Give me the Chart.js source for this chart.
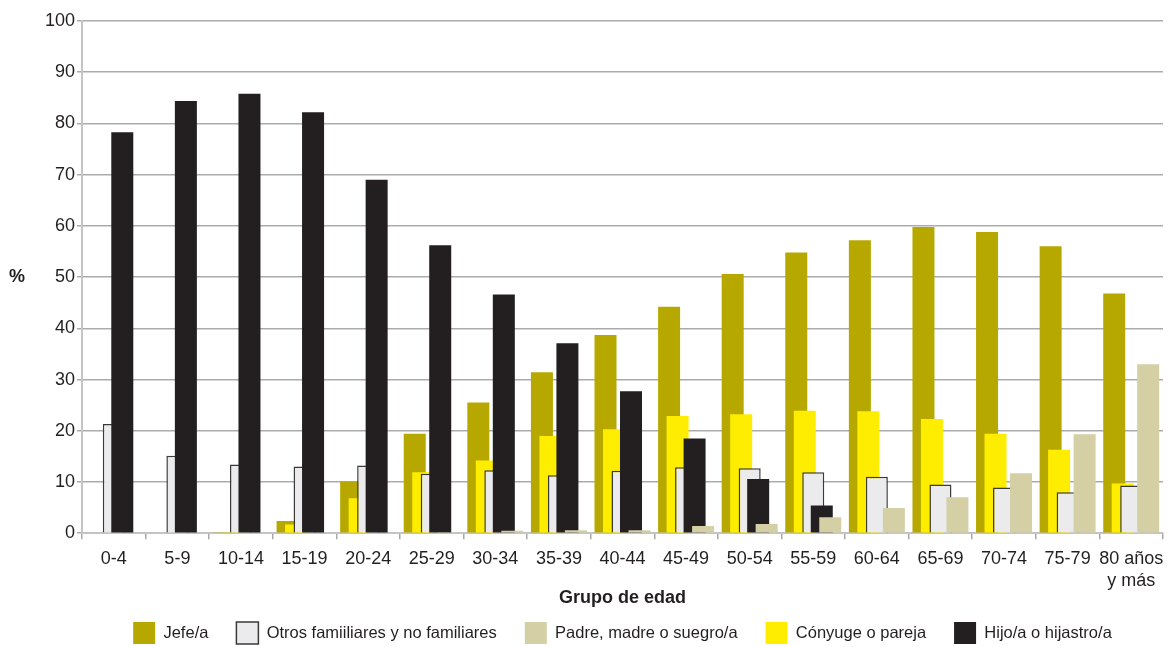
<!DOCTYPE html>
<html><head><meta charset="utf-8">
<script src="https://cdn.jsdelivr.net/npm/chart.js@4.4.1/dist/chart.umd.min.js"></script>
<style>html,body{margin:0;padding:0;background:#fff;}canvas{display:block}</style>
</head><body>
<canvas id="c" width="1176" height="647"></canvas>
<script>
// ---- data ----
const categories = ['0-4','5-9','10-14','15-19','20-24','25-29','30-34','35-39','40-44','45-49','50-54','55-59','60-64','65-69','70-74','75-79',['80 años','y más']];
const jefe     = [0, 0, 0.2, 2.4, 10.1, 19.4, 25.5, 31.4, 38.7, 44.2, 50.6, 54.8, 57.2, 59.8, 58.8, 56.0, 46.8];
const conyuge  = [0, 0, 0.2, 1.7, 6.8, 11.9, 14.2, 19.0, 20.3, 22.9, 23.2, 23.9, 23.8, 22.3, 19.4, 16.3, 9.7];
const otros    = [21.3, 15.1, 13.4, 13.0, 13.2, 11.6, 12.3, 11.3, 12.2, 12.9, 12.7, 11.9, 11.0, 9.5, 8.9, 8.0, 9.3];
const hijo     = [78.3, 84.4, 85.8, 82.2, 69.0, 56.2, 46.6, 37.1, 27.7, 18.5, 10.6, 5.4, 0, 0, 0, 0, 0];
const padre    = [0, 0, 0, 0, 0, 0.2, 0.5, 0.6, 0.6, 1.4, 1.8, 3.1, 4.9, 7.0, 11.7, 19.3, 33.0];
const seriesNames = ['Jefe/a', 'Cónyuge o pareja', 'Otros famiiliares y no familiares', 'Hijo/a o hijastro/a', 'Padre, madre o suegro/a'];
const legendRank = [0, 3, 1, 4, 2];
const yTicks = [0, 10, 20, 30, 40, 50, 60, 70, 80, 90, 100];
const xTitle = 'Grupo de edad';
const yTitle = '%';

// ---- styles ----
const FONT = '"Liberation Sans", Arial, Helvetica, sans-serif';
const TXT = '#231f20';
Chart.defaults.font.family = FONT;
Chart.defaults.color = TXT;

const colors = ['#b7a800', '#ffed00', '#ebebed', '#231f20', '#d4cfa5'];
const borders = [0, 0, 1.5, 0, 0];
const values = [jefe, conyuge, otros, hijo, padre];

const datasets = values.map((v, i) => ({
  label: seriesNames[i],
  data: v,
  backgroundColor: colors[i],
  borderColor: i === 2 ? '#3a3a3a' : colors[i],
  borderWidth: borders[i],
  categoryPercentage: 0.668,
  barPercentage: 2.59
}));

// draw datasets left-to-right so right-hand bars overlap left ones
const drawOrderPlugin = {
  id: 'drawOrder',
  beforeDatasetsDraw(chart) {
    const metas = chart.getSortedVisibleDatasetMetas();
    for (const m of metas) {
      if (typeof chart._drawDataset === 'function') chart._drawDataset(m);
      else m.controller.draw();
    }
    return false;
  }
};
const yTitlePlugin = {
  id: 'yTitle',
  afterDraw(chart) {
    const ctx = chart.ctx, a = chart.chartArea;
    ctx.save();
    ctx.font = 'bold 18px ' + FONT;
    ctx.fillStyle = TXT;
    ctx.textAlign = 'center';
    ctx.textBaseline = 'middle';
    ctx.fillText(yTitle, 17, (a.top + a.bottom) / 2);
    ctx.restore();
  }
};

new Chart(document.getElementById('c'), {
  type: 'bar',
  data: { labels: categories, datasets },
  plugins: [drawOrderPlugin, yTitlePlugin],
  options: {
    responsive: false,
    animation: false,
    devicePixelRatio: 1,
    layout: { padding: { left: 0, right: 13, top: 21, bottom: -7 } },
    plugins: {
      tooltip: { enabled: false },
      legend: {
        position: 'bottom',
        fullSize: false,
        labels: {
          boxWidth: 22, boxHeight: 22, padding: 28,
          font: { size: 16.5 }, color: TXT,
          sort: (a, b) => legendRank[a.datasetIndex] - legendRank[b.datasetIndex]
        }
      }
    },
    scales: {
      x: {
        grid: { offset: true, drawOnChartArea: false, drawTicks: true, tickLength: 6, color: '#a9a9a9', lineWidth: 1.5 },
        border: { color: '#c4c4c4', width: 2 },
        ticks: { font: { size: 18 }, color: TXT, padding: 9, maxRotation: 0, autoSkip: false },
        title: { display: true, text: xTitle, font: { size: 18, weight: 'bold' }, color: TXT, padding: { top: -13, bottom: -15 } }
      },
      y: {
        min: 0, max: 100,
        afterBuildTicks: (s) => { s.ticks = yTicks.map(v => ({ value: v })); },
        afterFit: (s) => { s.width = 82; },
        grid: { color: '#ababab', lineWidth: 1.5, tickLength: 5, drawTicks: true },
        border: { color: '#c4c4c4', width: 2 },
        ticks: { font: { size: 18 }, color: TXT, padding: 2 }
      }
    }
  }
});
</script>
</body></html>
